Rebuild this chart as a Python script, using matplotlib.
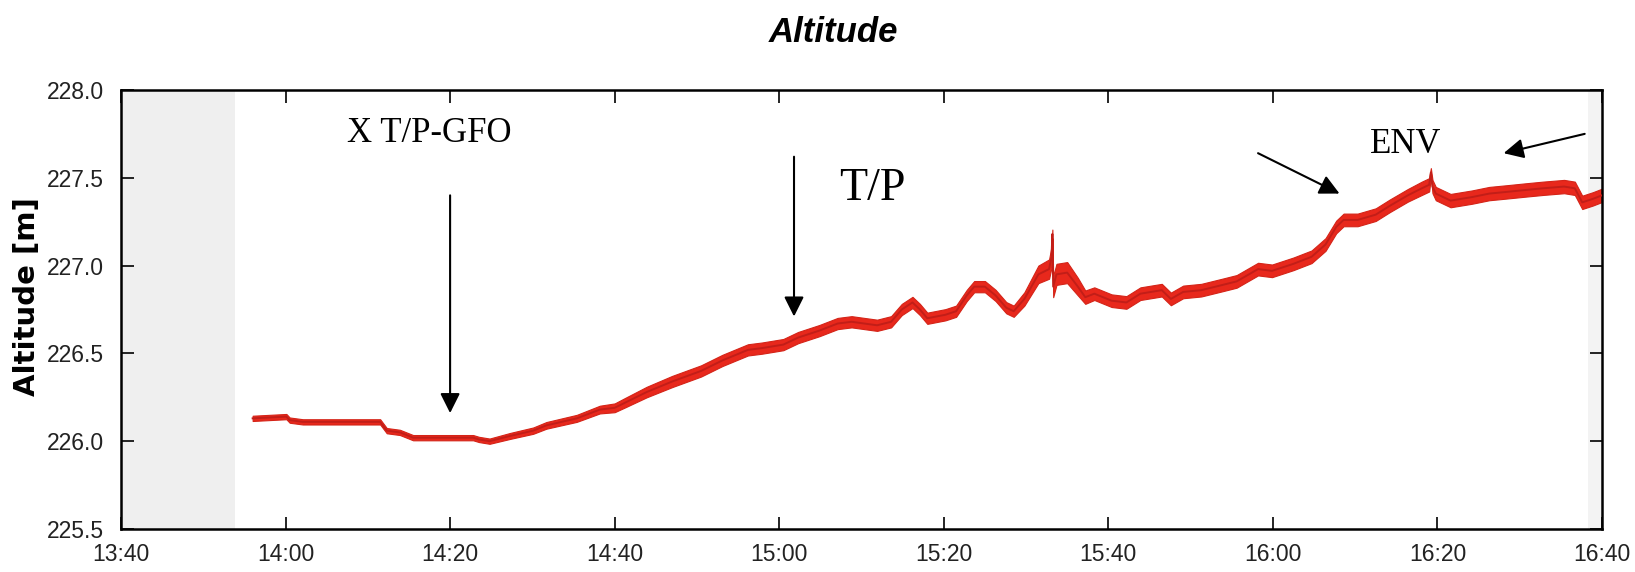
import matplotlib
matplotlib.use('Agg')
import matplotlib.pyplot as plt
import matplotlib.dates as mdates
import pandas as pd

# readings (clock time, altitude in m, half width of the noise band)
times = ['13:56:00', '14:00:06', '14:00:30', '14:02:06', '14:11:30', '14:12:18', '14:13:54',
         '14:15:30', '14:22:48', '14:23:30', '14:24:48', '14:27:18', '14:30:06', '14:31:42',
         '14:35:24', '14:38:12', '14:40:00', '14:41:18', '14:43:54', '14:47:00', '14:50:30',
         '14:53:06', '14:56:12', '14:57:54', '15:00:30', '15:02:18', '15:04:54', '15:07:06',
         '15:08:48', '15:11:54', '15:13:36', '15:14:54', '15:16:12', '15:17:06', '15:18:00',
         '15:20:12', '15:21:30', '15:22:48', '15:23:42', '15:25:00', '15:26:18', '15:27:36',
         '15:28:30', '15:29:48', '15:31:30', '15:32:48', '15:33:06', '15:33:12', '15:33:18',
         '15:33:42', '15:35:00', '15:36:18', '15:37:12', '15:38:18', '15:40:24', '15:42:12',
         '15:43:54', '15:46:30', '15:47:36', '15:49:06', '15:51:18', '15:53:54', '15:55:36',
         '15:58:12', '15:59:54', '16:02:30', '16:04:42', '16:06:24', '16:07:42', '16:08:36',
         '16:10:18', '16:12:30', '16:14:12', '16:16:24', '16:18:06', '16:19:00', '16:19:12',
         '16:19:24', '16:19:48', '16:21:36', '16:24:12', '16:26:18', '16:28:30', '16:30:36',
         '16:32:48', '16:35:24', '16:36:42', '16:37:36', '16:38:54', '16:40:00']
altitude = [226.13, 226.14, 226.12, 226.11, 226.11, 226.06, 226.05,
            226.02, 226.02, 226.01, 226.00, 226.03, 226.06, 226.09,
            226.13, 226.18, 226.19, 226.22, 226.28, 226.34, 226.40,
            226.46, 226.52, 226.53, 226.55, 226.59, 226.63, 226.67,
            226.68, 226.66, 226.68, 226.75, 226.79, 226.75, 226.70,
            226.72, 226.74, 226.83, 226.88, 226.88, 226.83, 226.76,
            226.74, 226.81, 226.95, 226.98, 227.05, 227.18, 226.88,
            226.95, 226.96, 226.88, 226.82, 226.84, 226.80, 226.79,
            226.84, 226.86, 226.81, 226.85, 226.86, 226.89, 226.91,
            226.98, 226.97, 227.01, 227.05, 227.12, 227.22, 227.26,
            227.26, 227.29, 227.34, 227.40, 227.44, 227.46, 227.53,
            227.45, 227.41, 227.37, 227.39, 227.41, 227.42, 227.43,
            227.44, 227.45, 227.44, 227.36, 227.38, 227.40]
spread = [0.015, 0.015, 0.015, 0.015, 0.015, 0.015, 0.015,
          0.015, 0.015, 0.015, 0.015, 0.017, 0.018, 0.019,
          0.02, 0.022, 0.025, 0.027, 0.03, 0.032, 0.032,
          0.032, 0.032, 0.032, 0.032, 0.032, 0.032, 0.032,
          0.032, 0.032, 0.032, 0.032, 0.032, 0.032, 0.032,
          0.032, 0.032, 0.032, 0.032, 0.032, 0.032, 0.032,
          0.032, 0.038, 0.05, 0.055, 0.06, 0.025, 0.06,
          0.06, 0.06, 0.05, 0.038, 0.036, 0.036, 0.036,
          0.036, 0.036, 0.036, 0.036, 0.036, 0.036, 0.036,
          0.036, 0.036, 0.036, 0.036, 0.036, 0.036, 0.036,
          0.036, 0.036, 0.036, 0.036, 0.038, 0.038, 0.025,
          0.038, 0.038, 0.038, 0.038, 0.038, 0.038, 0.038,
          0.038, 0.038, 0.038, 0.038, 0.038, 0.038]

day = '2000-01-01 '
t = pd.to_datetime([day + s for s in times])
T = lambda s: pd.Timestamp(day + s)

sans = ['Liberation Sans', 'DejaVu Sans']
serif = ['Liberation Serif', 'DejaVu Serif']

fig = plt.figure(figsize=(16.35, 5.72), dpi=100)
ax = fig.add_axes([0.074, 0.0752, 0.9058, 0.7675])

# grey bands at the two edges of the plot area
ax.axvspan(T('13:40:00'), T('13:53:54'), color='#efefef', lw=0, zorder=0)
ax.axvspan(T('16:38:18'), T('16:40:00'), color='#f3f3f3', lw=0, zorder=0)

lo = [a - s for a, s in zip(altitude, spread)]
hi = [a + s for a, s in zip(altitude, spread)]
ax.fill_between(t, lo, hi, color='#e8281c', lw=0.8, edgecolor='#d42418', zorder=2)
ax.plot(t, altitude, color='#c21e18', lw=1.4, zorder=3)

ax.set_xlim(T('13:40:00'), T('16:40:00'))
ax.set_ylim(225.5, 228.0)
ax.xaxis.set_major_locator(mdates.MinuteLocator(byminute=[0, 20, 40]))
ax.xaxis.set_major_formatter(mdates.DateFormatter('%H:%M'))
ax.set_yticks([225.5, 226.0, 226.5, 227.0, 227.5, 228.0])
ax.set_yticklabels(['225.5', '226.0', '226.5', '227.0', '227.5', '228.0'])

ax.tick_params(direction='in', top=True, right=True, length=9, width=1.2,
               labelsize=16.5, labelcolor='#222222')
ax.tick_params(axis='x', pad=10)
ax.tick_params(axis='y', pad=12)
for lab in ax.get_xticklabels() + ax.get_yticklabels():
    lab.set_family(sans)
for sp in ax.spines.values():
    sp.set_linewidth(1.8)

ax.set_ylabel('Altitude [m]', fontsize=21, fontweight='bold', family=['DejaVu Sans'])
ax.yaxis.set_label_coords(-0.054, 0.53)

fig.text(0.5095, 0.944, 'Altitude', fontsize=25, fontweight='bold', fontstyle='italic',
         family=sans, ha='center', va='center')

arrow = dict(arrowstyle='-|>', mutation_scale=30, lw=1.5, color='black',
             shrinkA=0, shrinkB=0)

ax.text(T('14:17:30'), 227.75, 'X T/P-GFO', fontsize=25, family=serif, ha='center', va='center')
ax.annotate('', xy=(T('14:20:00'), 226.16), xytext=(T('14:20:00'), 227.40), arrowprops=arrow)

ax.text(T('15:07:18'), 227.44, 'T/P', fontsize=33, family=serif, ha='left', va='center')
ax.annotate('', xy=(T('15:01:48'), 226.71), xytext=(T('15:01:48'), 227.62), arrowprops=arrow)

ax.text(T('16:16:06'), 227.69, 'ENV', fontsize=25, family=serif, ha='center', va='center')
ax.annotate('', xy=(T('16:08:06'), 227.41), xytext=(T('15:58:12'), 227.64), arrowprops=arrow)
ax.annotate('', xy=(T('16:28:03'), 227.64), xytext=(T('16:37:54'), 227.75), arrowprops=arrow)

fig.savefig('out.png', dpi=100)
